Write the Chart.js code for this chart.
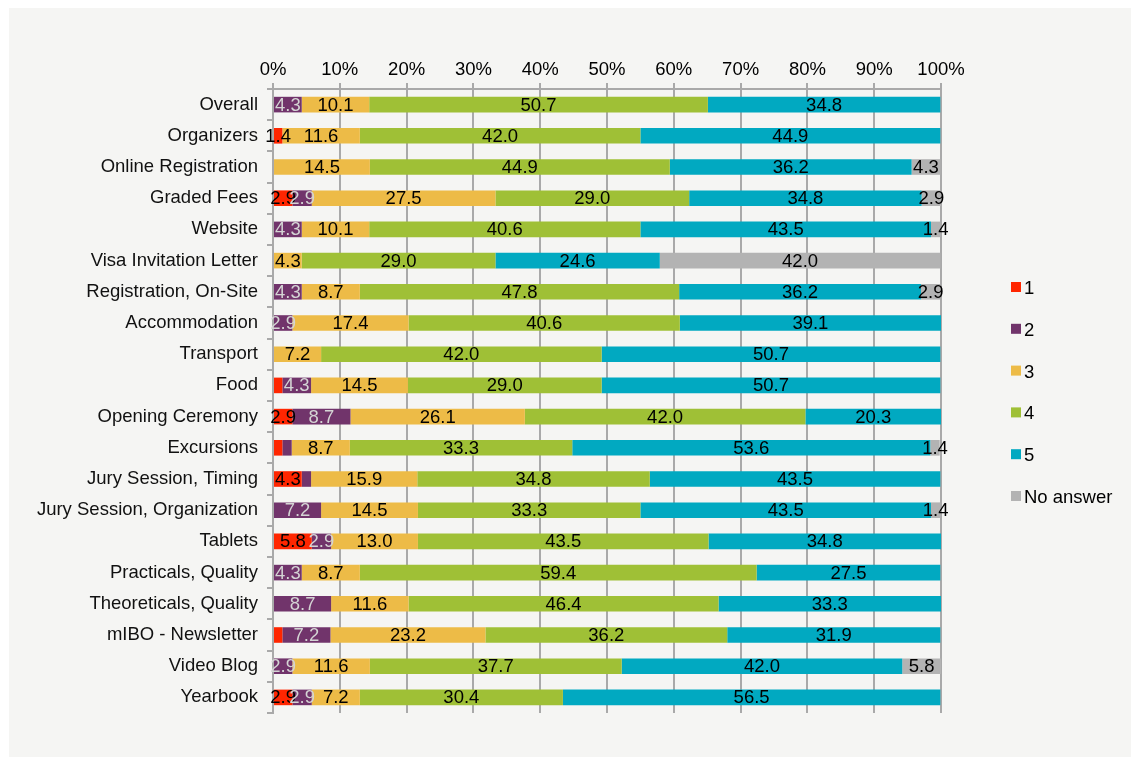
<!DOCTYPE html>
<html>
<head>
<meta charset="utf-8">
<title>Survey ratings</title>
<script src="https://cdn.jsdelivr.net/npm/chart.js@4"></script>
<style>
  html, body { margin: 0; padding: 0; background: #ffffff; }
  #panel {
    position: absolute; left: 9px; top: 8px;
    width: 1122px; height: 749px;
    background: #f5f5f3;
  }
  canvas { display: block; }
</style>
</head>
<body>
<div id="panel"><canvas id="chart" width="1122" height="749"></canvas></div>
<script>
// Rated items, top to bottom
const categories = [
  'Overall', 'Organizers', 'Online Registration', 'Graded Fees', 'Website',
  'Visa Invitation Letter', 'Registration, On-Site', 'Accommodation', 'Transport', 'Food',
  'Opening Ceremony', 'Excursions', 'Jury Session, Timing', 'Jury Session, Organization', 'Tablets',
  'Practicals, Quality', 'Theoreticals, Quality', 'mIBO - Newsletter', 'Video Blog', 'Yearbook'
];

// Share of answers (%) per rating
const rating1  = [0, 1.4, 0, 2.9, 0, 0, 0, 0, 0, 1.4, 2.9, 1.4, 4.3, 0, 5.8, 0, 0, 1.4, 0, 2.9];
const rating2  = [4.3, 0, 0, 2.9, 4.3, 0, 4.3, 2.9, 0, 4.3, 8.7, 1.4, 1.4, 7.2, 2.9, 4.3, 8.7, 7.2, 2.9, 2.9];
const rating3  = [10.1, 11.6, 14.5, 27.5, 10.1, 4.3, 8.7, 17.4, 7.2, 14.5, 26.1, 8.7, 15.9, 14.5, 13.0, 8.7, 11.6, 23.2, 11.6, 7.2];
const rating4  = [50.7, 42.0, 44.9, 29.0, 40.6, 29.0, 47.8, 40.6, 42.0, 29.0, 42.0, 33.3, 34.8, 33.3, 43.5, 59.4, 46.4, 36.2, 37.7, 30.4];
const rating5  = [34.8, 44.9, 36.2, 34.8, 43.5, 24.6, 36.2, 39.1, 50.7, 50.7, 20.3, 53.6, 43.5, 43.5, 34.8, 27.5, 33.3, 31.9, 42.0, 56.5];
const noAnswer = [0, 0, 4.3, 2.9, 1.4, 42.0, 2.9, 0, 0, 0, 0, 1.4, 0, 1.4, 0, 0, 0, 0, 5.8, 0];

const seriesNames = ['1', '2', '3', '4', '5', 'No answer'];

// Segments left without a value label ("row:series")
const unlabeled = ['9:0', '11:0', '11:1', '12:1', '17:0'];

const axisTicks = [0, 10, 20, 30, 40, 50, 60, 70, 80, 90, 100];

const FONT = 'Liberation Sans, Arial, sans-serif';
const FONT_SIZE = 18.5;
const GRID = '#a9a9a9';

const colors = ['#ff2600', '#71346b', '#edbb47', '#9fc036', '#01a9c1', '#b3b3b3'];
const labelColors = ['#000000', '#d4d4d4', '#000000', '#000000', '#000000', '#000000'];

const seriesData = [rating1, rating2, rating3, rating4, rating5, noAnswer];

const datasets = seriesData.map((values, i) => ({
  label: seriesNames[i],
  data: values,
  backgroundColor: colors[i],
  borderWidth: 0,
  barPercentage: 0.5,
  categoryPercentage: 1.0
}));

// Writes each segment's value in its middle
const valueLabels = {
  id: 'valueLabels',
  afterDatasetsDraw(chart) {
    const ctx = chart.ctx;
    ctx.save();
    ctx.font = FONT_SIZE + 'px ' + FONT;
    ctx.textAlign = 'center';
    ctx.textBaseline = 'middle';
    chart.data.datasets.forEach((ds, di) => {
      const meta = chart.getDatasetMeta(di);
      meta.data.forEach((bar, row) => {
        const v = ds.data[row];
        if (!v || unlabeled.includes(row + ':' + di)) return;
        const p = bar.getCenterPoint();
        ctx.fillStyle = labelColors[di];
        ctx.fillText(v.toFixed(1), p.x, p.y + 1);
      });
    });
    ctx.restore();
  }
};

// Vertical legend to the right of the plot
const sideLegend = {
  id: 'sideLegend',
  afterDraw(chart) {
    const ctx = chart.ctx;
    const area = chart.chartArea;
    const step = 41.8;
    const n = chart.data.datasets.length;
    const x = area.right + 70;
    const y0 = (area.top + area.bottom) / 2 - 8.5 - step * (n - 1) / 2;
    ctx.save();
    ctx.font = FONT_SIZE + 'px ' + FONT;
    ctx.textBaseline = 'middle';
    ctx.textAlign = 'left';
    chart.data.datasets.forEach((ds, i) => {
      const y = y0 + i * step;
      ctx.fillStyle = ds.backgroundColor;
      ctx.fillRect(x, y - 6, 10, 10);
      ctx.fillStyle = '#000000';
      ctx.fillText(ds.label, x + 13, y + 1);
    });
    ctx.restore();
  }
};

new Chart(document.getElementById('chart').getContext('2d'), {
  type: 'bar',
  data: { labels: categories, datasets: datasets },
  options: {
    indexAxis: 'y',
    responsive: false,
    animation: false,
    layout: { padding: { top: 0, left: 0, right: 190, bottom: 44 } },
    plugins: {
      legend: { display: false },
      tooltip: { enabled: false }
    },
    scales: {
      x: {
        position: 'top',
        stacked: true,
        min: 0,
        max: 100,
        afterBuildTicks(scale) {
          scale.ticks = axisTicks.map(v => ({ value: v }));
        },
        afterFit(scale) { scale.height = 81; },
        ticks: {
          callback: v => v + '%',
          color: '#000000',
          padding: 2,
          font: { family: FONT, size: FONT_SIZE }
        },
        grid: { color: GRID, lineWidth: 2, tickLength: 6 },
        border: { color: GRID, width: 2 }
      },
      y: {
        stacked: true,
        afterFit(scale) { scale.width = 264; },
        ticks: {
          color: '#111111',
          padding: 9,
          font: { family: FONT, size: FONT_SIZE }
        },
        grid: {
          offset: true,
          drawOnChartArea: false,
          color: GRID,
          lineWidth: 2,
          tickLength: 6
        },
        border: { color: GRID, width: 2 }
      }
    }
  },
  plugins: [valueLabels, sideLegend]
});
</script>
</body>
</html>
